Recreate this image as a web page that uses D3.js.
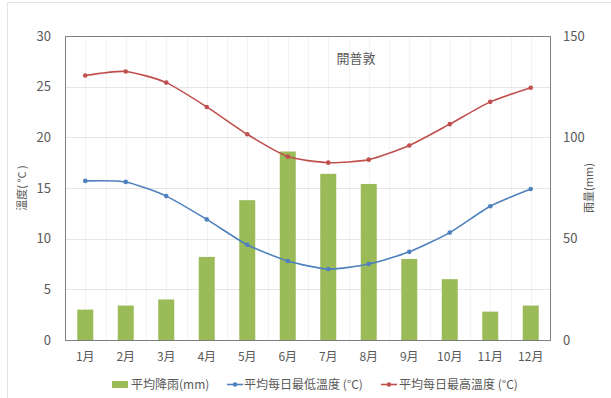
<!DOCTYPE html>
<html>
<head>
<meta charset="utf-8">
<script src="https://cdn.jsdelivr.net/npm/d3@7"></script>
<style>
  body { margin: 0; background: #fff; }
  svg text { font-family: "Noto Sans CJK TC", "Noto Sans", sans-serif; fill: #595959; }
</style>
</head>
<body>
<svg id="chart"></svg>
<script>
// chart data
var months = ["1月", "2月", "3月", "4月", "5月", "6月", "7月", "8月", "9月", "10月", "11月", "12月"];
var rainfall = [15, 17, 20, 41, 69, 93, 82, 77, 40, 30, 14, 17];
var minTemp = [15.7, 15.6, 14.2, 11.9, 9.4, 7.8, 7.0, 7.5, 8.7, 10.6, 13.2, 14.9];
var maxTemp = [26.1, 26.5, 25.4, 23.0, 20.3, 18.1, 17.5, 17.8, 19.2, 21.3, 23.5, 24.9];
var tempTicks = [0, 5, 10, 15, 20, 25, 30];
var rainTicks = [0, 50, 100, 150];

var title = "開普敦";
var legendNames = ["平均降雨(mm)", "平均每日最低溫度 (°C)", "平均每日最高溫度 (°C)"];

var W = 611, H = 398;
var plot = { left: 65, right: 551, top: 36, bottom: 340 };

var svg = d3.select("#chart").attr("width", W).attr("height", H);

// faint outer border of the chart
svg.append("path")
    .attr("d", "M7.5," + H + "V2.5H" + W)
    .attr("fill", "none")
    .attr("stroke", "#e3e3e3");

var x = d3.scaleBand().domain(months).range([plot.left, plot.right]);
var yT = d3.scaleLinear().domain([0, 30]).range([plot.bottom, plot.top]);
var yR = d3.scaleLinear().domain([0, 150]).range([plot.bottom, plot.top]);

// vertical minor gridlines, every half category
var vGrid = [];
months.forEach(function(m) {
  vGrid.push(x(m));
  vGrid.push(x(m) + x.bandwidth() / 2);
});
svg.append("g").selectAll("line").data(vGrid).join("line")
    .attr("x1", function(d) { return Math.round(d) + 0.5; })
    .attr("x2", function(d) { return Math.round(d) + 0.5; })
    .attr("y1", plot.top).attr("y2", plot.bottom)
    .attr("stroke", "#f3f3f3");

// horizontal gridlines
svg.append("g").selectAll("line").data(tempTicks.slice(1, -1)).join("line")
    .attr("x1", plot.left).attr("x2", plot.right)
    .attr("y1", function(d) { return Math.round(yT(d)) + 0.5; })
    .attr("y2", function(d) { return Math.round(yT(d)) + 0.5; })
    .attr("stroke", "#e6e6e6");

// bars
var barW = 16;
svg.append("g").selectAll("rect").data(rainfall).join("rect")
    .attr("x", function(d, i) { return x(months[i]) + x.bandwidth() / 2 - barW / 2; })
    .attr("y", function(d) { return yR(d); })
    .attr("width", barW)
    .attr("height", function(d) { return plot.bottom - yR(d); })
    .attr("fill", "#9bbb59");

// plot frame
svg.append("rect")
    .attr("x", plot.left + 0.5).attr("y", plot.top + 0.5)
    .attr("width", plot.right - plot.left - 1)
    .attr("height", plot.bottom - plot.top)
    .attr("fill", "none")
    .attr("stroke", "#7f7f7f");

// temperature lines (smoothed like the spreadsheet)
var line = d3.line()
    .x(function(d, i) { return x(months[i]) + x.bandwidth() / 2; })
    .y(function(d) { return yT(d); })
    .curve(d3.curveCardinal.tension(0.35));

[[minTemp, "#4f81bd"], [maxTemp, "#c0504d"]].forEach(function(s) {
  svg.append("path")
      .datum(s[0])
      .attr("d", line)
      .attr("fill", "none")
      .attr("stroke", s[1])
      .attr("stroke-width", 1.6);
  svg.append("g").selectAll("circle").data(s[0]).join("circle")
      .attr("cx", function(d, i) { return x(months[i]) + x.bandwidth() / 2; })
      .attr("cy", function(d) { return yT(d); })
      .attr("r", 2.3)
      .attr("fill", s[1]);
});

// axes
var leftAxis = svg.append("g")
    .attr("transform", "translate(" + (plot.left - 14) + ",0)")
    .call(d3.axisLeft(yT).tickValues(tempTicks).tickSize(0));
var rightAxis = svg.append("g")
    .attr("transform", "translate(" + (plot.right + 12) + ",0)")
    .call(d3.axisRight(yR).tickValues(rainTicks).tickSize(0));
var bottomAxis = svg.append("g")
    .attr("transform", "translate(0," + plot.bottom + ")")
    .call(d3.axisBottom(x).tickSize(0).tickPadding(12));
[leftAxis, rightAxis, bottomAxis].forEach(function(a) {
  a.select(".domain").remove();
  a.selectAll("text").attr("font-size", 13).attr("fill", "#595959");
});
leftAxis.selectAll("text").attr("x", 0);
rightAxis.selectAll("text").attr("x", 0);
bottomAxis.selectAll("text").attr("font-size", 12);

// axis titles
svg.append("text")
    .attr("transform", "translate(26," + (plot.top + plot.bottom) / 2 + ") rotate(-90)")
    .attr("text-anchor", "middle")
    .attr("font-size", 11)
    .attr("fill", "#7f7f7f")
    .text("溫度( °C )");
svg.append("text")
    .attr("transform", "translate(593," + (plot.top + plot.bottom) / 2 + ") rotate(-90)")
    .attr("text-anchor", "middle")
    .attr("font-size", 11)
    .attr("fill", "#7f7f7f")
    .text("雨量(mm)");

// title
svg.append("text")
    .attr("x", 356).attr("y", 63)
    .attr("text-anchor", "middle")
    .attr("font-size", 13)
    .text(title);

// legend
var legend = svg.append("g").attr("font-size", 12);
legend.append("rect")
    .attr("x", 112).attr("y", 381).attr("width", 16).attr("height", 7)
    .attr("fill", "#9bbb59");
legend.append("text").attr("x", 131).attr("y", 389).text(legendNames[0]);

[[227, 244, "#4f81bd", legendNames[1]], [381, 399, "#c0504d", legendNames[2]]].forEach(function(l) {
  legend.append("line")
      .attr("x1", l[0]).attr("x2", l[0] + 16)
      .attr("y1", 384.5).attr("y2", 384.5)
      .attr("stroke", l[2]).attr("stroke-width", 1.6);
  legend.append("circle")
      .attr("cx", l[0] + 8).attr("cy", 384.5).attr("r", 2.3)
      .attr("fill", l[2]);
  legend.append("text").attr("x", l[1]).attr("y", 389).text(l[3]);
});
</script>
</body>
</html>
